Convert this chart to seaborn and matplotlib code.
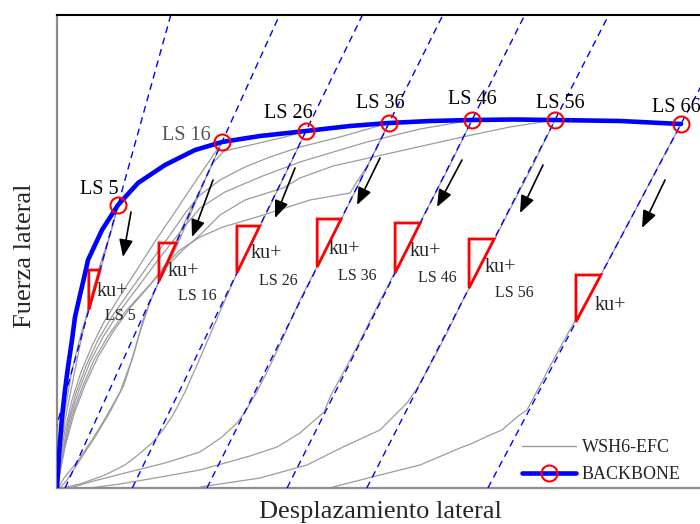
import numpy as np
import pandas as pd
import matplotlib
matplotlib.use("Agg")
import matplotlib.pyplot as plt
from matplotlib.patches import Polygon
from matplotlib.lines import Line2D
import seaborn as sns

sns.set_style("white")
plt.rcParams["font.family"] = ["Liberation Serif", "DejaVu Serif"]

# ---- backbone envelope (displacement, force) ----
bb_d = [0.0, 0.2, 0.5, 0.8, 1.1, 1.5, 1.8, 2.3, 2.7, 3.1, 3.8, 4.5, 6.1, 8.1, 10.8,
        13.8, 16.5, 20.3, 24.9, 29.3, 33.2, 37.3, 41.5, 45.7, 49.8, 56.3, 62.4]
bb_f = [0.0, 6.6, 14.2, 19.6, 24.2, 29.6, 34.2, 38.6, 42.0, 45.6, 48.6, 51.6, 56.6, 61.0, 64.6,
        67.6, 69.2, 70.4, 71.4, 72.4, 73.0, 73.4, 73.6, 73.7, 73.6, 73.4, 72.8]

# load steps on the backbone and their unloading stiffness
ls_names = ["LS 5", "LS 16", "LS 26", "LS 36", "LS 46", "LS 56", "LS 66"]
ls_idx = [12, 16, 18, 20, 22, 24, 26]
ku = [7.2, 4.41, 4.11, 4.01, 3.98, 3.91, 3.77]
# force range spanned by each stiffness triangle (top, bottom)
tri_top = [43.6, 49.0, 52.4, 53.8, 53.0, 49.8, 42.6]
tri_bot = [35.6, 41.4, 43.0, 44.2, 43.0, 40.0, 33.2]

# ---- measured hysteresis branches (WSH6-EFC) ----
curves = {
    "U5": ([6.1, 5.3, 4.3, 3.3, 2.3, 1.5, 0.8, 0.3, 0.0],
           [56.4, 50.6, 44.6, 37.6, 28.6, 20.6, 13.6, 6.6, 0.0]),
    "R5": ([0.0, 0.3, 0.8, 1.5, 2.5, 3.8, 4.9, 6.1],
           [0.0, 7.6, 15.6, 23.6, 31.6, 39.6, 47.6, 56.4]),
    "U16": ([16.5, 14.8, 13.1, 11.5, 9.8, 8.6, 7.8, 6.7, 5.3, 3.8, 2.3, 1.0, 0.3],
            [69.2, 61.6, 53.6, 46.2, 39.6, 33.6, 27.6, 20.6, 15.2, 10.2, 5.6, 1.6, 0.0]),
    "U26": ([24.9, 22.8, 20.5, 18.5, 16.8, 15.3, 14.0, 12.8, 11.6, 10.6, 9.5, 8.1, 6.8, 4.8, 2.3, 0.5],
            [71.4, 62.6, 53.2, 45.2, 37.6, 30.6, 24.6, 19.2, 14.6, 11.6, 9.0, 6.6, 4.6, 2.6, 0.8, 0.0]),
    "U36": ([33.2, 31.1, 28.8, 26.5, 24.3, 22.5, 21.1, 19.8, 18.8, 18.0, 16.5, 14.3, 10.8, 6.8, 3.3, 1.3],
            [73.0, 64.6, 55.2, 46.2, 37.6, 29.6, 23.6, 18.6, 15.2, 13.0, 10.2, 7.2, 5.0, 3.0, 1.2, 0.0]),
    "U46": ([41.5, 39.3, 36.8, 34.3, 32.1, 30.1, 28.5, 27.4, 26.7, 24.3, 22.0, 19.3, 14.3, 9.8, 6.3, 3.3],
            [73.6, 64.6, 55.0, 45.2, 36.6, 28.6, 22.6, 18.6, 15.2, 11.0, 8.2, 6.4, 3.6, 2.0, 0.8, 0.0]),
    "U56": ([49.8, 47.6, 45.1, 42.8, 40.6, 38.8, 37.3, 36.1, 35.0, 34.0, 32.3, 28.6, 25.0, 20.3, 14.3],
            [73.6, 64.6, 55.0, 46.0, 37.6, 30.2, 24.6, 20.2, 17.0, 15.0, 11.6, 8.2, 4.6, 2.0, 0.2]),
    "U66": ([62.4, 60.3, 58.0, 55.6, 53.3, 51.0, 49.1, 47.8, 47.0, 46.0, 44.5, 43.3, 41.6, 40.3, 36.3, 32.3, 27.6],
            [72.8, 65.0, 56.2, 47.2, 38.6, 30.6, 23.6, 18.6, 15.6, 14.2, 11.6, 10.6, 9.0, 8.0, 4.6, 2.6, 0.2]),
    "F16": ([0.0, 0.3, 0.8, 1.5, 2.4, 3.5, 4.7, 6.3, 8.1, 9.9, 11.8, 13.6, 15.1, 16.5],
            [0.0, 5.6, 11.6, 17.6, 23.2, 28.4, 33.2, 38.4, 44.0, 49.6, 55.2, 60.6, 65.0, 69.2]),
    "F26": ([0.1, 0.7, 2.0, 3.5, 4.9, 6.3, 7.4, 8.3, 9.3, 10.8, 12.5, 14.3, 15.6, 16.7, 19.8, 22.8, 24.9],
            [0.0, 2.0, 5.2, 9.6, 14.2, 19.2, 25.2, 31.2, 37.2, 44.2, 52.0, 59.6, 65.0, 67.4, 68.8, 70.2, 71.4]),
    "F36": ([0.0, 0.5, 1.1, 1.9, 2.9, 4.1, 5.6, 7.5, 9.5, 11.3, 12.9, 14.3, 16.3, 18.8, 21.3, 24.3, 28.3, 33.2],
            [0.0, 6.6, 13.2, 19.0, 24.4, 29.6, 34.6, 40.0, 45.6, 50.6, 55.2, 58.6, 61.6, 64.2, 66.2, 68.2, 70.2, 73.0]),
    "F36b": ([0.0, 0.8, 1.7, 2.8, 4.1, 5.6, 7.3, 9.3, 10.8, 12.3, 14.3, 16.6, 20.0, 25.3, 29.3, 30.1, 31.1, 33.2],
             [0.0, 8.2, 14.8, 20.6, 26.2, 31.2, 36.0, 40.6, 44.6, 47.6, 50.2, 52.2, 54.2, 57.6, 59.0, 61.6, 64.6, 73.0]),
    "F46": ([0.0, 0.6, 1.3, 2.2, 3.3, 4.6, 6.2, 8.1, 10.1, 12.0, 13.3, 14.3, 16.8, 20.3, 24.3, 28.3, 31.0, 36.3, 41.5],
            [0.0, 7.2, 14.0, 19.6, 25.2, 30.2, 35.2, 40.2, 45.6, 50.4, 53.6, 56.0, 59.2, 62.2, 65.2, 67.6, 69.2, 71.8, 73.6]),
    "F56": ([0.0, 0.7, 1.5, 2.5, 3.7, 5.1, 6.8, 8.8, 10.8, 12.6, 14.3, 16.3, 18.8, 22.6, 24.3, 27.6, 34.3, 41.0, 45.3, 49.8],
            [0.0, 7.6, 14.4, 20.0, 25.6, 30.4, 35.2, 39.6, 44.0, 47.6, 50.6, 54.6, 57.6, 60.0, 62.0, 64.4, 67.4, 70.4, 72.2, 73.6]),
}

rows = []
for name, (d, f) in curves.items():
    for i, (di, fi) in enumerate(zip(d, f)):
        rows.append({"curve": name, "step": i, "d": di, "f": fi})
test = pd.DataFrame(rows)

D_MAX, F_MAX = 66.0, 94.6

fig = plt.figure(figsize=(7.0, 5.24), dpi=100)
ax = fig.add_axes([57 / 700, 36 / 524, 660 / 700, 473 / 524])

# test branches
sns.lineplot(data=test, x="d", y="f", units="curve", estimator=None, sort=False,
             color="#9c9c9c", lw=0.9, ax=ax, legend=False, zorder=2)

ls_d = [bb_d[i] for i in ls_idx]
ls_f = [bb_f[i] for i in ls_idx]

# unloading stiffness lines
for d0, f0, k in zip(ls_d, ls_f, ku):
    ff = np.array([0.0, F_MAX])
    ax.plot(d0 + (ff - f0) / k, ff, color="blue", lw=1.0, ls=(0, (5, 3.5)), zorder=3)

# stiffness triangles
for d0, f0, k, ft, fb in zip(ls_d, ls_f, ku, tri_top, tri_bot):
    xb = d0 + (fb - f0) / k
    xt = d0 + (ft - f0) / k
    ax.add_patch(Polygon([(xb, fb), (xt, ft), (xb, ft)], closed=True, fill=False,
                         edgecolor="red", lw=2.0, joinstyle="miter", zorder=5))

# backbone
sns.lineplot(x=bb_d, y=bb_f, sort=False, estimator=None, color="blue", lw=3.3, ax=ax, zorder=6)
ax.plot(ls_d, ls_f, ls="none", marker="o", ms=11.5, mfc="none", mec="red", mew=1.5, zorder=7)

# step labels on the backbone
top_pos = [(4.2, 59.8), (12.9, 70.6), (23.1, 74.8), (32.3, 77.0), (41.5, 77.6), (50.3, 77.0), (59.5, 76.0)]
for name, (x, y) in zip(ls_names, top_pos):
    ax.text(x, y, name, fontsize=14.5, ha="left" if name == "LS 66" else "center", va="center",
            color="#555555" if name == "LS 16" else "black", zorder=8)

# stiffness labels
ku_pos = [(5.5, 39.4), (12.6, 43.4), (20.9, 47.0), (28.7, 47.6), (36.8, 47.2), (44.3, 44.0), (55.3, 36.6)]
for x, y in ku_pos:
    ax.text(x, y, "ku+", fontsize=14.5, ha="center", va="center", zorder=8)
small_pos = [(6.3, 34.4), (14.0, 38.4), (22.1, 41.4), (30.0, 42.4), (38.0, 42.0), (45.7, 39.0)]
for name, (x, y) in zip(ls_names, small_pos):
    ax.text(x, y, name, fontsize=11.5, ha="center", va="center", zorder=8)

# unloading direction arrows
arrows = [((7.4, 55.2), (6.6, 46.2)), ((15.6, 61.6), (13.5, 50.2)), ((23.8, 64.0), (21.8, 54.0)),
          ((32.3, 66.0), (30.0, 56.6)), ((40.5, 65.6), (38.0, 56.2)), ((48.6, 64.6), (46.3, 55.0)),
          ((60.8, 61.6), (58.5, 52.0))]
for tail, head in arrows:
    ax.annotate("", xy=head, xytext=tail,
                arrowprops=dict(arrowstyle="-|>,head_length=0.75,head_width=0.3",
                                color="black", lw=1.2, shrinkA=0, shrinkB=0,
                                mutation_scale=14), zorder=8)

ax.set_xlim(0, D_MAX)
ax.set_ylim(0, F_MAX)
ax.set_xticks([])
ax.set_yticks([])
ax.set_xlabel("")
ax.set_ylabel("")
for side in ("left", "bottom"):
    ax.spines[side].set_color("#8c8c8c")
    ax.spines[side].set_linewidth(1.6)
ax.spines["top"].set_color("black")
ax.spines["top"].set_linewidth(1.5)
ax.spines["right"].set_color("black")

handles = [Line2D([], [], color="#9c9c9c", lw=1.0),
           Line2D([], [], color="blue", lw=3.3, marker="o", ms=11.5, mfc="none", mec="red", mew=1.5)]
fig.legend(handles, ["WSH6-EFC", "BACKBONE"], loc="lower left", bbox_to_anchor=(0.745, 0.078),
           frameon=False, fontsize=13, handlelength=3.0, handletextpad=0.35,
           labelspacing=0.55, borderpad=0, borderaxespad=0)

fig.text(380 / 700, 1 - 512 / 524, "Desplazamiento lateral", fontsize=19, ha="center", va="center")
fig.text(25 / 700, 1 - 256 / 524, "Fuerza lateral", fontsize=19, ha="center", va="center", rotation=90)

fig.savefig("out.png", dpi=100)
